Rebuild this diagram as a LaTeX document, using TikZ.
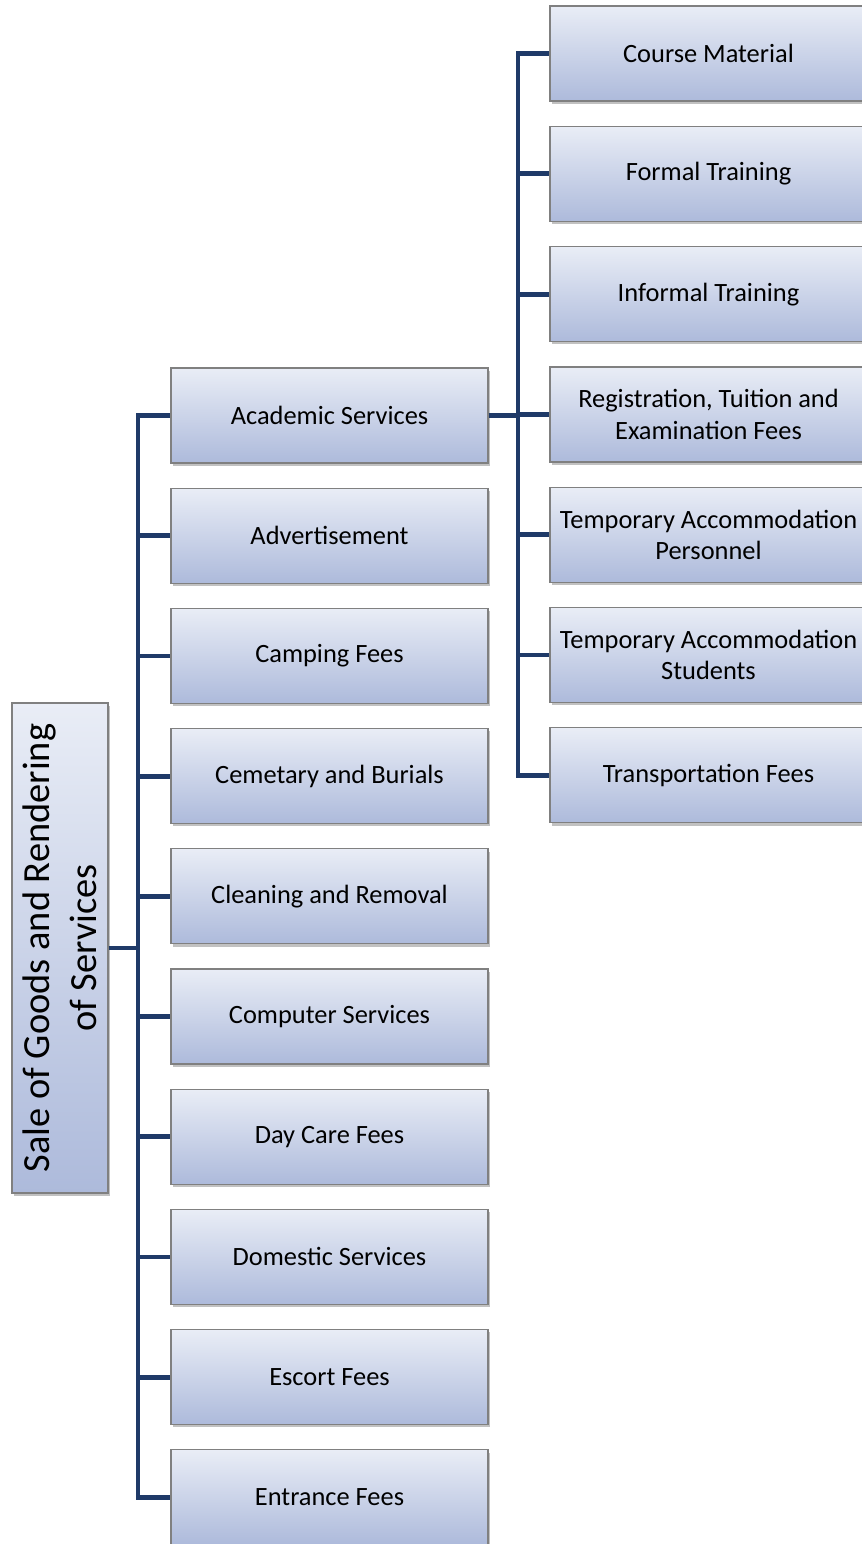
\documentclass[tikz,border=0pt]{standalone}
\usepackage{fontspec}
\setmainfont{Carlito}
\usetikzlibrary{shadows}
\definecolor{boxtop}{HTML}{E9EDF6}
\definecolor{boxbot}{HTML}{ADBADB}
\definecolor{boxline}{HTML}{808080}
\definecolor{conncol}{HTML}{1F3A68}
\tikzset{
  box/.style={rectangle, draw=boxline, line width=0.6pt, top color=boxtop, bottom color=boxbot,
    minimum width=158.5pt, minimum height=47.5pt, inner sep=2pt, align=center,
    font=\fontsize{13.2}{15.6}\selectfont,
    drop shadow={shadow xshift=1.2pt, shadow yshift=-1.4pt, opacity=0.35, fill=black!70}},
  rootbox/.style={box, minimum width=48pt, minimum height=245pt},
  rootlabel/.style={rotate=90, align=center, font=\fontsize{19.2}{23.5}\selectfont, inner sep=0pt},
  conn/.style={draw=conncol, line width=2.4pt, line join=miter}
}
\begin{document}
\begin{tikzpicture}[x=0.5pt, y=-0.5pt]
\useasboundingbox (0,0) rectangle (862,1544);
% root
\node[rootbox] (root) at (60,948) {};
\node[rootlabel] (rootlbl) at (root.center) {Sale of Goods and Rendering\\of Services};
% level 1
\node[box] (c1) at (329.5,415.5) {Academic Services};
\node[box] (c2) at (329.5,535.7) {Advertisement};
\node[box] (c3) at (329.5,655.9) {Camping Fees};
\node[box] (c4) at (329.5,776.1) {Cemetary and Burials};
\node[box] (c5) at (329.5,896.3) {Cleaning and Removal};
\node[box] (c6) at (329.5,1016.5) {Computer Services};
\node[box] (c7) at (329.5,1136.7) {Day Care Fees};
\node[box] (c8) at (329.5,1256.9) {Domestic Services};
\node[box] (c9) at (329.5,1377.1) {Escort Fees};
\node[box] (c10) at (329.5,1497.3) {Entrance Fees};
% level 2
\node[box] (r1) at (708.5,53.5) {Course Material};
\node[box] (r2) at (708.5,173.8) {Formal Training};
\node[box] (r3) at (708.5,294.1) {Informal Training};
\node[box] (r4) at (708.5,414.4) {Registration, Tuition and\\Examination Fees};
\node[box] (r5) at (708.5,534.7) {Temporary Accommodation\\Personnel};
\node[box] (r6) at (708.5,655.0) {Temporary Accommodation\\Students};
\node[box] (r7) at (708.5,775.3) {Transportation Fees};
% connectors
\coordinate (t1) at (138,948);
\coordinate (t2) at (518,415.5);
\draw[conn] (root.east) -- (t1);
\foreach \c in {c1,c2,c3,c4,c5,c6,c7,c8,c9,c10}{
  \draw[conn] (t1) |- (\c.west);
}
\draw[conn] (c1.east) -- (t2);
\foreach \r in {r1,r2,r3,r4,r5,r6,r7}{
  \draw[conn] (t2) |- (\r.west);
}
\end{tikzpicture}
\end{document}
